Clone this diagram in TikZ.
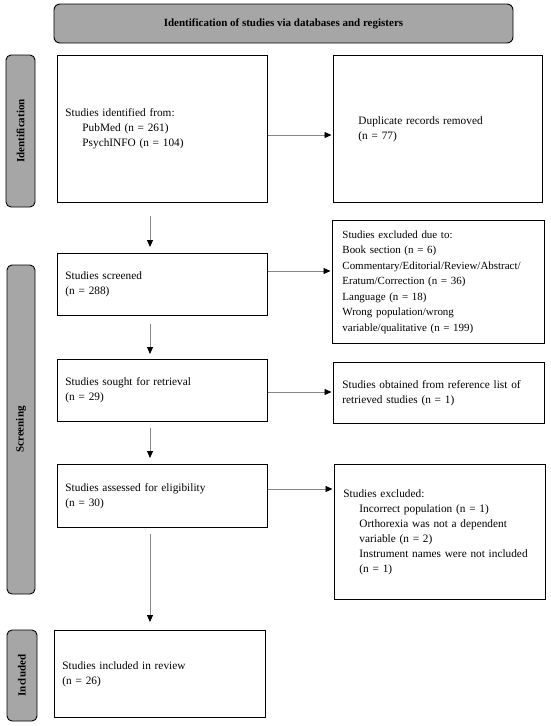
\documentclass[tikz,border=0pt]{standalone}
\usepackage{fontspec}
\setmainfont{Liberation Serif}
\usetikzlibrary{arrows.meta}
\definecolor{lblgray}{RGB}{166,166,166}
\definecolor{arrgray}{RGB}{135,135,135}
\begin{document}
\begin{tikzpicture}[x=1pt,y=-1pt,
  every node/.style={font=\fontsize{11.3}{15}\selectfont},
  box/.style={draw=black, line width=0.9pt, align=left, inner xsep=8pt, inner ysep=0pt, anchor=north west},
  lbl/.style={draw=black, line width=0.9pt, fill=lblgray, rounded corners=5pt, inner sep=0pt, rotate=90, font=\fontsize{11}{13}\selectfont\bfseries},
  arr/.style={draw=arrgray, line width=0.8pt, -{Triangle[length=7pt,width=6pt,color=black]}}]
\useasboundingbox (0,0) rectangle (550,726);
\fill[white] (0,0) rectangle (550,726);

% banner
\node[draw=black, line width=0.9pt, fill=lblgray, rounded corners=6pt, minimum width=459pt, minimum height=39pt, inner sep=0pt, font=\fontsize{11}{13}\selectfont\bfseries] (ban) at (283.5,23.5) {Identification of studies via databases and registers};

% side labels
\node[lbl, minimum width=152pt, minimum height=29pt] (idl) at (20.5,131) {Identification};
\node[lbl, minimum width=329pt, minimum height=28pt] (scl) at (21,429.5) {Screening};
\node[lbl, minimum width=91pt, minimum height=30pt] (inl) at (22,675.5) {Included};

% left column
\node[box, minimum width=210pt, minimum height=147pt, text width=194pt] (b1) at (57,55)
  {Studies identified from:\\\hspace*{17pt}PubMed (n = 261)\\\hspace*{17pt}PsychINFO (n = 104)};
\node[box, minimum width=210pt, minimum height=62pt, text width=194pt] (scr) at (57,253)
  {Studies screened\\(n = 288)};
\node[box, minimum width=210pt, minimum height=62pt, text width=194pt] (sgt) at (57,359)
  {Studies sought for retrieval\\(n = 29)};
\node[box, minimum width=210pt, minimum height=63pt, text width=194pt] (elg) at (57,464)
  {Studies assessed for eligibility\\(n = 30)};
\node[box, minimum width=211pt, minimum height=87pt, text width=195pt] (inc) at (54,630)
  {Studies included in review\\(n = 26)};

% right column
\node[box, inner xsep=25pt, minimum width=209pt, minimum height=147pt, text width=159pt] (dup) at (333,55)
  {Duplicate records removed\\(n = 77)};
\node[box, inner xsep=10pt, minimum width=212pt, minimum height=123pt, text width=192pt, font=\fontsize{10.95}{15.5}\selectfont] (exc) at (332,220)
  {Studies excluded due to:\\Book section (n = 6)\\Commentary/Editorial/Review/Abstract/\\Eratum/Correction (n = 36)\\Language (n = 18)\\Wrong population/wrong\\variable/qualitative (n = 199)};
\node[box, inner xsep=9pt, minimum width=211pt, minimum height=61pt, text width=193pt] (ret) at (333,362)
  {Studies obtained from reference list of\\retrieved studies (n = 1)};
\node[box, inner xsep=9pt, minimum width=211pt, minimum height=135pt, text width=193pt] (exc2) at (334,464)
  {Studies excluded:\\\hspace*{16pt}Incorrect population (n = 1)\\\hspace*{16pt}Orthorexia was not a dependent\\\hspace*{16pt}variable (n = 2)\\\hspace*{16pt}Instrument names were not included\\\hspace*{16pt}(n = 1)};

% helper coordinates
\coordinate (ax) at (150,0);
\coordinate (h1) at (0,135);
\coordinate (h2) at (0,271);
\coordinate (h3) at (0,392);
\coordinate (h4) at (0,489);

% vertical arrows
\draw[arr, shorten <=13pt, shorten >=6pt] (b1.south -| ax) -- (scr.north -| ax);
\draw[arr, shorten <=8pt, shorten >=5pt] (scr.south -| ax) -- (sgt.north -| ax);
\draw[arr, shorten <=6pt, shorten >=6pt] (sgt.south -| ax) -- (elg.north -| ax);
\draw[arr, shorten <=6pt, shorten >=8pt] (elg.south -| ax) -- (inc.north -| ax);

% horizontal arrows
\draw[arr, shorten >=1.5pt] (b1.east |- h1) -- (dup.west |- h1);
\draw[arr, shorten >=1.5pt] (scr.east |- h2) -- (exc.west |- h2);
\draw[arr, shorten >=1.5pt] (sgt.east |- h3) -- (ret.west |- h3);
\draw[arr, shorten >=1.5pt] (elg.east |- h4) -- (exc2.west |- h4);
\end{tikzpicture}
\end{document}
